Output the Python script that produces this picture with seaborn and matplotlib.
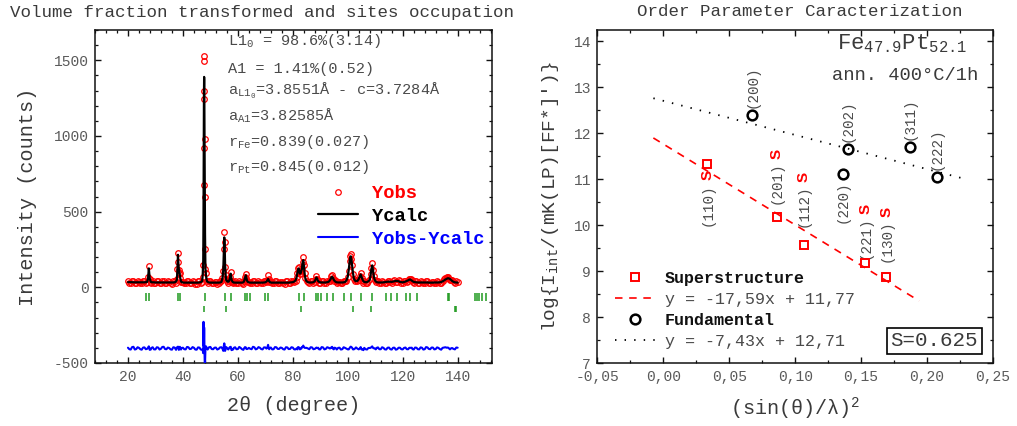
import matplotlib
matplotlib.use("Agg")
import numpy as np
import pandas as pd
import matplotlib.pyplot as plt
from matplotlib.ticker import MultipleLocator, FuncFormatter
import seaborn as sns

# ---------------- Rietveld refinement profile (left panel) ----------------
two_theta = [
    20, 20.5, 21, 21.5, 22, 22.5, 23, 23.5, 24, 24.5, 25, 25.5, 26, 26.5, 27,
    27.3, 27.6, 27.9, 28.3, 28.5, 29, 29.5, 30, 30.5, 31, 31.5, 32, 32.5, 33,
    33.5, 34, 34.5, 35, 35.5, 36, 36.5, 37, 37.5, 37.8, 38.0, 38.2, 38.35, 38.5, 38.7, 38.9, 39.1, 39.3, 39.5,
    40, 40.5, 41, 41.5, 42, 42.5, 43, 43.5, 44, 44.5, 45, 45.5, 46, 46.5, 47, 47.2, 47.4,
    47.5, 47.58, 47.65, 47.72, 47.76, 47.8, 47.86, 47.95, 48.05, 48.2, 48.4, 48.7,
    49, 49.5, 50, 50.5, 51, 51.5, 52, 52.5, 53, 53.5, 54, 54.4,
    54.7, 54.9, 55.05, 55.2, 55.35, 55.55, 55.8, 56.1, 56.5, 56.8, 57.1, 57.4, 57.7, 58.0, 58.3, 58.5,
    59, 59.5, 60, 60.5, 61, 61.5, 62, 62.3, 62.6, 62.9, 63.1, 63.3, 63.6, 64, 64.5,
    65, 65.5, 66, 66.5, 67, 67.5, 68, 68.5, 69, 69.5, 70, 70.4, 70.7, 71.0, 71.2, 71.4, 71.7, 72, 72.5,
    73, 73.5, 74, 74.5, 75, 75.5, 76, 76.5, 77, 77.5, 78, 78.5, 79, 79.5, 80, 80.5,
    81, 81.4, 81.7, 81.9, 82.1, 82.35, 82.6, 82.9, 83.1, 83.3, 83.55, 83.8, 84.05, 84.3, 84.6, 85, 85.5,
    86, 86.5, 87, 87.5, 88, 88.3, 88.6, 88.9, 89.2, 89.6, 90, 90.5, 91, 91.5, 92, 92.5,
    93, 93.4, 93.8, 94.05, 94.3, 94.6, 94.9, 95.2, 95.6, 96, 96.5, 97, 97.5, 98, 98.5, 99, 99.5,
    100, 100.35, 100.7, 100.9, 101.1, 101.35, 101.6, 101.9, 102.2, 102.6, 103, 103.5,
    104, 104.35, 104.7, 105.05, 105.4, 105.7, 106, 106.5, 107, 107.5, 108, 108.3, 108.6, 108.9, 109.2, 109.5, 109.85, 110.2, 110.6,
    111, 111.5, 112, 112.5, 113, 113.5, 114, 114.5, 115, 115.5, 116, 116.5, 117, 117.5, 118, 118.5, 119, 119.5, 120, 120.5, 121, 121.5,
    122, 122.3, 122.6, 122.9, 123.3, 123.6, 124, 124.5, 125, 125.5, 126, 126.5, 127, 127.5, 128, 128.5,
    129, 129.5, 130, 130.5, 131, 131.5, 132, 132.5, 133, 133.5, 134, 134.5, 135, 135.5,
    136, 136.3, 136.6, 136.9, 137.2, 137.6, 138, 138.5, 139, 139.5, 140,
]
y_obs = [
    40, 30, 28, 44, 45, 27, 30, 42, 38, 29, 26, 40, 41, 30, 35,
    66, 140, 52, 30, 38, 42, 28, 27, 41, 39, 26, 31, 43, 44,
    29, 28, 39, 36, 27, 25, 41, 40, 30, 58, 120, 228, 170, 112, 95, 92, 60, 34, 38,
    38, 27, 26, 42, 40, 28, 30, 41, 37, 25, 24, 39, 39, 28, 33, 70, 150,
    677, 919, 1296, 1530, 1493, 1246, 978, 600, 250, 120, 95, 45,
    30, 41, 42, 28, 27, 37, 38, 25, 29, 40, 44, 60,
    105, 250, 365, 300, 135, 80, 55, 42, 30, 45, 70, 102, 40, 35, 26, 37,
    40, 27, 28, 42, 36, 27, 25, 45, 70, 88, 60, 42, 35, 38, 30,
    27, 43, 40, 26, 30, 41, 37, 28, 26, 40, 41, 38, 50, 80, 52, 36, 40, 38, 26,
    27, 41, 40, 29, 29, 38, 36, 27, 25, 40, 39, 28, 30, 42, 41, 33,
    40, 70, 95, 125, 135, 110, 85, 95, 110, 130, 170, 200, 150, 95, 60, 45, 35,
    28, 41, 40, 30, 38, 55, 72, 58, 48, 30, 28, 42, 40, 27, 30, 43,
    42, 45, 58, 75, 82, 62, 45, 48, 40, 27, 37, 38, 26, 28, 42, 40, 45,
    65, 110, 175, 205, 218, 190, 145, 90, 55, 45, 48, 42,
    50, 72, 95, 62, 45, 30, 40, 30, 28, 44, 55, 85, 130, 160, 115, 72, 50, 33, 40,
    40, 28, 28, 41, 38, 29, 30, 43, 44, 33, 30, 44, 46, 35, 38, 46, 42, 30, 28, 40, 45, 38,
    42, 54, 58, 55, 50, 36, 30, 41, 39, 28, 27, 40, 38, 26, 28, 42,
    40, 29, 27, 38, 38, 27, 29, 40, 37, 30, 28, 44, 52, 60,
    62, 66, 66, 58, 50, 50, 46, 34, 28, 39, 37,
]
y_calc = [
    34, 34, 34, 34, 33, 33, 33, 33, 33, 33, 33, 33, 33, 34, 36,
    60, 125, 60, 36, 34, 33, 33, 32, 32, 32, 32, 32, 32, 32,
    32, 32, 32, 32, 32, 32, 32, 33, 38, 50, 110, 215, 160, 120, 100, 80, 55, 40, 34,
    32, 31, 31, 31, 31, 31, 31, 31, 31, 31, 31, 31, 32, 34, 40, 80, 180,
    500, 900, 1250, 1390, 1370, 1200, 1000, 700, 350, 120, 80, 40,
    36, 32, 31, 31, 31, 31, 31, 31, 31, 32, 35, 60,
    120, 230, 330, 280, 150, 80, 45, 40, 36, 42, 60, 90, 50, 38, 32, 32,
    31, 31, 31, 31, 31, 31, 33, 42, 60, 80, 62, 45, 36, 33, 31,
    31, 31, 31, 31, 31, 31, 31, 31, 31, 32, 33, 38, 45, 55, 48, 40, 34, 31, 31,
    31, 31, 31, 31, 31, 31, 31, 31, 31, 31, 31, 31, 32, 33, 34, 38,
    45, 68, 100, 115, 125, 105, 90, 95, 110, 120, 160, 180, 140, 90, 55, 40, 34,
    32, 32, 32, 34, 40, 52, 65, 55, 42, 35, 33, 32, 32, 32, 32, 34,
    36, 44, 55, 66, 70, 62, 50, 42, 36, 33, 32, 32, 32, 32, 33, 35, 45,
    70, 115, 170, 195, 205, 180, 140, 95, 60, 45, 40, 42,
    55, 72, 85, 68, 50, 40, 35, 34, 34, 40, 50, 80, 120, 145, 110, 70, 48, 38, 34,
    32, 32, 32, 32, 33, 34, 36, 37, 37, 37, 36, 38, 40, 42, 42, 40, 36, 34, 33, 35, 38, 42,
    46, 50, 52, 50, 44, 40, 36, 34, 33, 32, 32, 32, 32, 32, 32, 32,
    32, 31, 31, 31, 31, 32, 32, 32, 32, 33, 35, 39, 45, 51,
    56, 59, 60, 58, 55, 48, 42, 36, 33, 32, 31,
]
diff_offset = -405
assert len(two_theta) == len(y_obs) == len(y_calc)

# Bragg reflection positions (L1_0 and A1 phases)
bragg_l10 = [26.7, 27.5, 38.2, 39.0, 47.9, 55.2, 57.4, 62.5, 63.2, 64.5, 69.9, 71.1, 82.1,
             83.9, 88.3, 89.0, 90.1, 92.3, 94.7, 98.6, 101.0, 104.8, 108.9, 113.8, 115.6,
             118.0, 121.2, 122.7, 125.3, 136.6, 137.0, 146.4, 146.9, 147.6, 148.7, 150.3]
bragg_a1 = [47.8, 55.8, 82.8, 102.0, 108.3, 138.9, 139.4]

# ---------------- Order parameter characterization (right panel) ----------------
super_hkl = ["(110)", "(201)", "(112)", "(221)", "(130)"]
super_x = [0.0334, 0.0862, 0.1064, 0.1533, 0.1690]
super_y = [11.33, 10.19, 9.57, 9.19, 8.88]

fund_hkl = ["(200)", "(202)", "(220)", "(311)", "(222)"]
fund_x = [0.0676, 0.1398, 0.1360, 0.1870, 0.2072]
fund_y = [12.41, 11.67, 11.12, 11.71, 11.06]

super_slope, super_icpt = -17.59, 11.77
fund_slope, fund_icpt = -7.43, 12.71
super_fit_range = [-0.0075, 0.194]
fund_fit_range = [-0.0075, 0.228]
order_S = 0.625

# label offsets along the rotated text (pixels; negative = below the marker)
super_lab_off = [-19, 13, 18, 4, 15]
fund_lab_off = [7, 7, -7, 7, 7]

# ---------------- style ----------------
sns.set_theme(style="ticks")
plt.rcParams.update({
    "font.family": ["Liberation Mono", "DejaVu Sans"],
    "mathtext.default": "regular",
    "axes.unicode_minus": False,
    "xtick.direction": "in",
    "ytick.direction": "in",
    "xtick.top": True,
    "ytick.right": True,
    "axes.edgecolor": "#111111",
    "axes.linewidth": 1.1,
    "xtick.color": "#111111",
    "ytick.color": "#111111",
    "xtick.labelcolor": "#5a5a5a",
    "ytick.labelcolor": "#5a5a5a",
    "xtick.labelsize": 10.5,
    "ytick.labelsize": 10.5,
    "xtick.major.size": 4,
    "ytick.major.size": 4,
    "xtick.minor.size": 2.5,
    "ytick.minor.size": 2.5,
    "xtick.major.width": 1.0,
    "ytick.major.width": 1.0,
    "xtick.minor.width": 0.9,
    "ytick.minor.width": 0.9,
    "xtick.minor.visible": True,
    "ytick.minor.visible": True,
    "xtick.major.pad": 5,
    "ytick.major.pad": 4.5,
})
GRAY = "#4a4a4a"
DARK = "#3a3a3a"

fig = plt.figure(figsize=(10.17, 4.26), dpi=100)
W, H = 1017, 426
ax1 = fig.add_axes([95 / W, 1 - 363 / H, 397 / W, 333 / H])
ax2 = fig.add_axes([597.3 / W, 1 - 363.3 / H, 395.7 / W, 333.3 / H])

# ---------------- left panel ----------------
prof = pd.DataFrame({"tt": two_theta, "obs": y_obs, "calc": y_calc})
prof["diff"] = prof["obs"] - prof["calc"] + diff_offset

sns.lineplot(data=prof, x="tt", y="obs", ax=ax1, linestyle="", marker="o",
             markersize=4.0, markerfacecolor="none", markeredgecolor="#ff0000",
             markeredgewidth=0.9, color="#ff0000", label="Yobs", zorder=2)
sns.lineplot(data=prof, x="tt", y="calc", ax=ax1, color="black", linewidth=1.6,
             label="Ycalc", zorder=3)
sns.lineplot(data=prof, x="tt", y="diff", ax=ax1, color="#0000ff", linewidth=1.5,
             label="Yobs-Ycalc", zorder=3)
ax1.vlines(bragg_l10, -88, -40, color="#1f9a1f", linewidth=1.1)
ax1.vlines(bragg_a1, -163, -125, color="#1f9a1f", linewidth=1.1)

ax1.set_xlim(8, 152.5)
ax1.set_ylim(-500, 1700)
ax1.xaxis.set_major_locator(MultipleLocator(20))
ax1.xaxis.set_minor_locator(MultipleLocator(4))
ax1.yaxis.set_major_locator(MultipleLocator(500))
ax1.yaxis.set_minor_locator(MultipleLocator(100))
ax1.set_xlabel("2θ (degree)", fontsize=14.5, color=DARK, labelpad=9)
ax1.set_ylabel("Intensity (counts)", fontsize=14.5, color=DARK, labelpad=12)

info = [
    ("L1$_0$ = 98.6%(3.14)", 0.956),
    ("A1 = 1.41%(0.52)", 0.872),
    ("a$_{L1_0}$=3.8551Å - c=3.7284Å", 0.806),
    ("a$_{A1}$=3.82585Å", 0.727),
    ("r$_{Fe}$=0.839(0.027)", 0.652),
    ("r$_{Pt}$=0.845(0.012)", 0.577),
]
for txt, yy in info:
    ax1.text(0.336, yy, txt, transform=ax1.transAxes, fontsize=11, color=GRAY,
             ha="left", va="baseline")

h1, l1 = ax1.get_legend_handles_labels()
leg1 = ax1.legend(h1, l1, loc="center left", bbox_to_anchor=(0.562, 0.44),
                  frameon=False, borderpad=0, borderaxespad=0, handlelength=2.13,
                  handletextpad=0.75, labelspacing=0.3,
                  prop={"weight": "bold", "size": 13.5},
                  labelcolor=["#ff0000", "black", "#0000ff"])

# ---------------- right panel ----------------
sup = pd.DataFrame({"x": super_x, "y": super_y})
fun = pd.DataFrame({"x": fund_x, "y": fund_y})
sfit = pd.DataFrame({"x": super_fit_range})
sfit["y"] = super_slope * sfit["x"] + super_icpt
ffit = pd.DataFrame({"x": fund_fit_range})
ffit["y"] = fund_slope * ffit["x"] + fund_icpt

sns.lineplot(data=sfit, x="x", y="y", ax=ax2, color="#ff0000", linewidth=1.2,
             dashes=False, linestyle=(0, (4.5, 4)), label="y = -17,59x + 11,77")
sns.lineplot(data=ffit, x="x", y="y", ax=ax2, color="black", linewidth=1.3,
             dashes=False, linestyle=(0, (0.8, 4.5)), label="y = -7,43x + 12,71")
sns.lineplot(data=sup, x="x", y="y", ax=ax2, linestyle="", marker="s", markersize=6.3,
             markerfacecolor="none", markeredgecolor="#ff0000", markeredgewidth=1.4,
             color="#ff0000", label="Superstructure", zorder=4)
sns.lineplot(data=fun, x="x", y="y", ax=ax2, linestyle="", marker="o", markersize=7,
             markerfacecolor="none", markeredgecolor="black", markeredgewidth=1.8,
             color="black", label="Fundamental", zorder=4)

ax2.set_xlim(-0.05, 0.25)
ax2.set_ylim(7, 14.25)
ax2.xaxis.set_major_locator(MultipleLocator(0.05))
ax2.xaxis.set_minor_locator(MultipleLocator(0.025))
ax2.yaxis.set_major_locator(MultipleLocator(1))
ax2.yaxis.set_minor_locator(MultipleLocator(0.5))
ax2.xaxis.set_major_formatter(FuncFormatter(lambda v, p: f"{v:.2f}".replace(".", ",")))
ax2.set_xlabel("(sin(θ)/λ)$^2$", fontsize=14.5, color=DARK, labelpad=8)
ax2.set_ylabel("log{I$_{int}$/(mK(LP)[FF*]')}", fontsize=14, color=DARK, labelpad=9)

# reflection labels
for hkl, x, y, off in zip(super_hkl, super_x, super_y, super_lab_off):
    if off > 0:
        ax2.annotate(hkl, (x, y), xytext=(0, off), textcoords="offset pixels",
                     rotation=90, ha="center", va="bottom", fontsize=10.3, color=GRAY)
        ax2.annotate("S", (x, y), xytext=(0, off + 45), textcoords="offset pixels",
                     rotation=90, ha="center", va="bottom", fontsize=11, color="#ff0000",
                     fontweight="bold", family="Liberation Sans")
    else:
        ax2.annotate("S", (x, y), xytext=(0, -6), textcoords="offset pixels",
                     rotation=90, ha="center", va="top", fontsize=11, color="#ff0000",
                     fontweight="bold", family="Liberation Sans")
        ax2.annotate(hkl, (x, y), xytext=(0, off), textcoords="offset pixels",
                     rotation=90, ha="center", va="top", fontsize=10.3, color=GRAY)
for hkl, x, y, off in zip(fund_hkl, fund_x, fund_y, fund_lab_off):
    ax2.annotate(hkl, (x, y), xytext=(0, off), textcoords="offset pixels",
                 rotation=90, ha="center", va="bottom" if off > 0 else "top",
                 fontsize=10.3, color=GRAY)

ax2.text(0.934, 0.941, "Fe$_{47.9}$Pt$_{52.1}$", transform=ax2.transAxes, ha="right",
         va="baseline", fontsize=16, color=DARK)
ax2.text(0.962, 0.851, "ann. 400°C/1h", transform=ax2.transAxes, ha="right",
         va="baseline", fontsize=13.5, color=DARK)
ax2.text(0.851, 0.067, f"S={order_S}", transform=ax2.transAxes, ha="center",
         va="center", fontsize=15, color=DARK,
         bbox=dict(boxstyle="square,pad=0.18", fc="white", ec="black", lw=1.2))

h2, l2 = ax2.get_legend_handles_labels()
order = [l2.index("Superstructure"), l2.index("y = -17,59x + 11,77"),
         l2.index("Fundamental"), l2.index("y = -7,43x + 12,71")]
leg2 = ax2.legend([h2[i] for i in order], [l2[i] for i in order], loc="center left",
                  bbox_to_anchor=(0.045, 0.16), frameon=False, borderpad=0,
                  borderaxespad=0, handlelength=2.4, handletextpad=0.6,
                  labelspacing=0.35, fontsize=12)
for t in leg2.get_texts():
    if t.get_text() in ("Superstructure", "Fundamental"):
        t.set_fontweight("bold")
        t.set_color("#111111")
    else:
        t.set_color(GRAY)

# panel titles
fig.text(262 / W, 1 - 12 / H, "Volume fraction transformed and sites occupation",
         ha="center", va="center", fontsize=12.6, color=DARK)
fig.text(800 / W, 1 - 12 / H, "Order Parameter Caracterization",
         ha="center", va="center", fontsize=12.6, color=DARK)

fig.savefig("out.png", dpi=100, facecolor="white")
